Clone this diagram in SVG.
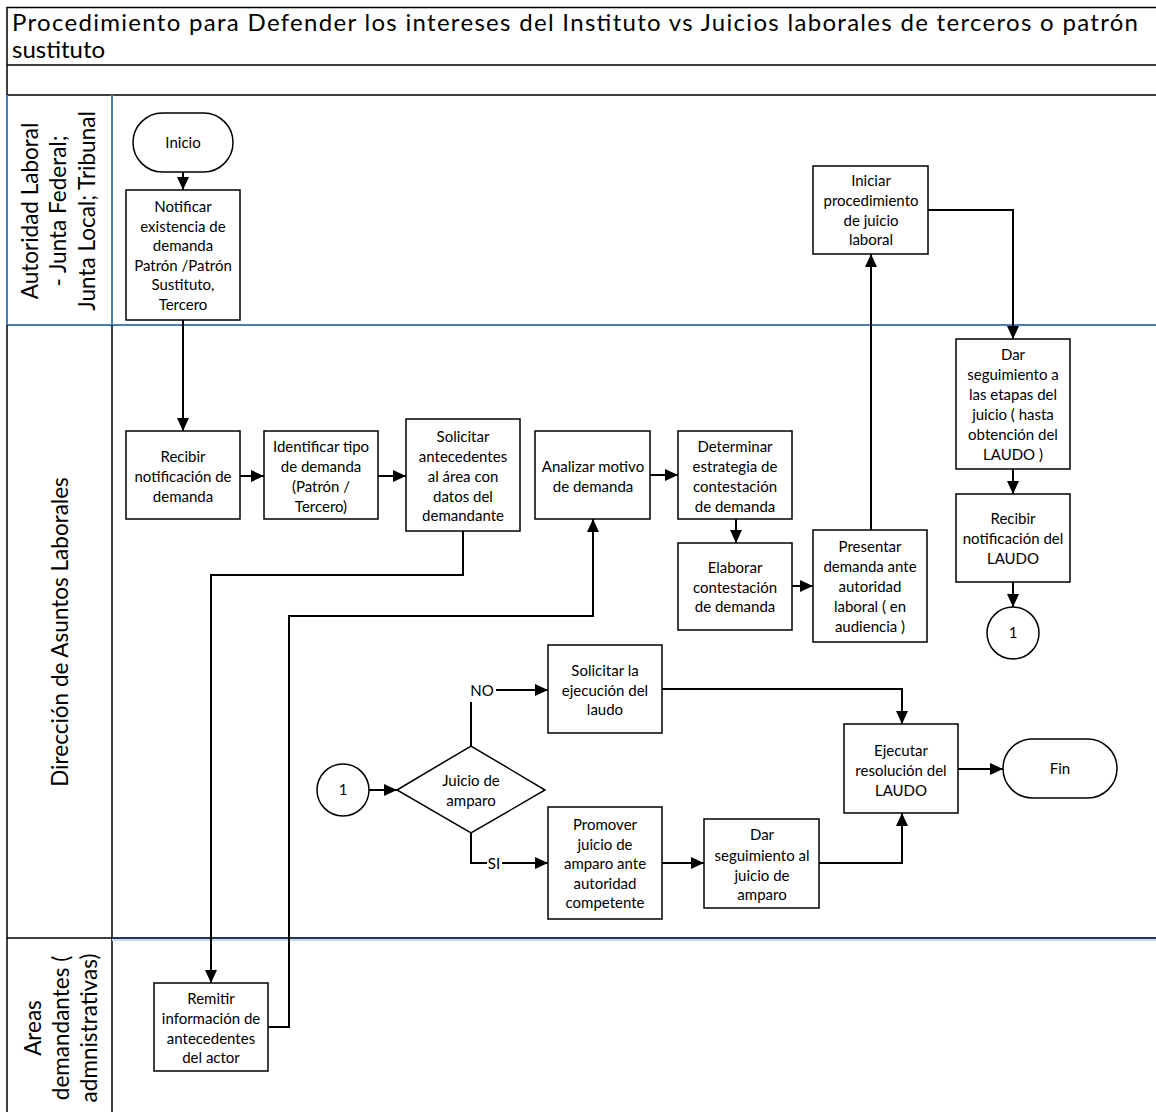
<svg xmlns="http://www.w3.org/2000/svg" width="1156" height="1112" viewBox="0 0 1156 1112">
<defs>
<marker id="arr" markerUnits="userSpaceOnUse" markerWidth="13" markerHeight="12" refX="13" refY="6" orient="auto"><path d="M0,0 L13,6 L0,12 z" fill="#000"/></marker>
<style>
.t{font-family:Lato,"Liberation Sans",sans-serif;font-size:15px;fill:#000;text-anchor:middle}
.lane{font-family:Lato,"Liberation Sans",sans-serif;font-size:22.5px;fill:#000;text-anchor:middle}
.title{font-family:Lato,"Liberation Sans",sans-serif;font-size:24px;fill:#000}
.box{fill:#fff;stroke:#000;stroke-width:1.5}
.c{fill:none;stroke:#000;stroke-width:2}
.ca{fill:none;stroke:#000;stroke-width:2;marker-end:url(#arr)}
.blue{stroke:#4a7ebb;stroke-width:2;fill:none}
.blk{stroke:#000;stroke-width:1.5;fill:none}
</style>
</defs>
<rect width="1156" height="1112" fill="#fff"/>
<g id="frame">
<rect x="7" y="7.5" width="1160" height="87.5" class="blk"/>
<line x1="7" y1="65" x2="1156" y2="65" class="blk"/>
<text class="title" x="12" y="31" textLength="1126" lengthAdjust="spacing">Procedimiento para Defender los intereses del Instituto vs Juicios laborales de terceros o patrón</text>
<text class="title" x="12" y="58">sustituto</text>
<line x1="7" y1="95" x2="7" y2="325" class="blue"/>
<line x1="112" y1="95" x2="112" y2="325" class="blue"/>
<line x1="7" y1="325" x2="1156" y2="325" class="blue"/>
<line x1="7" y1="325" x2="7" y2="1112" class="blk"/>
<line x1="112" y1="325" x2="112" y2="1112" class="blk"/>
<line x1="7" y1="938" x2="112" y2="938" class="blk"/>
<line x1="112" y1="938" x2="1156" y2="938" stroke="#1f3a5c" stroke-width="2"/>
<line x1="112" y1="940" x2="1156" y2="940" stroke="#c9d8ea" stroke-width="2"/>
</g>
<g id="lane-labels">
<text class="lane" transform="translate(38,211) rotate(-90)">Autoridad Laboral</text>
<text class="lane" transform="translate(66,211) rotate(-90)">- Junta Federal;</text>
<text class="lane" transform="translate(95,211) rotate(-90)">Junta Local; Tribunal</text>
<text class="lane" transform="translate(68,632) rotate(-90)">Dirección de Asuntos Laborales</text>
<text class="lane" transform="translate(41,1028) rotate(-90)">Areas</text>
<text class="lane" transform="translate(69,1028) rotate(-90)">demandantes (</text>
<text class="lane" transform="translate(97,1028) rotate(-90)">admnistrativas)</text>
</g>
<g id="connectors">
<path class="ca" d="M183,172 V190"/>
<path class="ca" d="M183,320 V431"/>
<path class="ca" d="M240,476 H264"/>
<path class="ca" d="M378,476 H406"/>
<path class="ca" d="M463,531 V575 H211 V983"/>
<path class="ca" d="M268,1027 H289 V616 H593 V519"/>
<path class="ca" d="M650,475 H678"/>
<path class="ca" d="M736,519 V543"/>
<path class="ca" d="M792,586 H813"/>
<path class="ca" d="M871,530 V254"/>
<path class="ca" d="M928,210 H1013 V339"/>
<path class="ca" d="M1013,469 V494"/>
<path class="ca" d="M1013,582 V607"/>
<path class="ca" d="M369,790 H397"/>
<path class="c" d="M471,746 V702"/>
<path class="ca" d="M496,690 H548"/>
<text class="t" x="482" y="696">NO</text>
<path class="c" d="M471,833 V863 H487"/>
<path class="ca" d="M502,863 H548"/>
<text class="t" x="494" y="869">SI</text>
<path class="ca" d="M662,863 H704"/>
<path class="ca" d="M662,689 H902 V724"/>
<path class="ca" d="M819,863 H902 V813"/>
<path class="ca" d="M958,769 H1003"/>
</g>
<g id="inicio"><rect class="box" x="133" y="113" width="100" height="59" rx="29.5"/><text class="t" x="183" y="148">Inicio</text></g>
<g id="notificar"><rect class="box" x="126" y="190" width="114" height="130"/><text class="t"><tspan x="183" y="212">Notificar</tspan><tspan x="183" y="232">existencia de</tspan><tspan x="183" y="251">demanda</tspan><tspan x="183" y="271">Patrón /Patrón</tspan><tspan x="183" y="290">Sustituto,</tspan><tspan x="183" y="310">Tercero</tspan></text></g>
<g id="iniciar"><rect class="box" x="813" y="166" width="115" height="88"/><text class="t"><tspan x="871" y="186">Iniciar</tspan><tspan x="871" y="206">procedimiento</tspan><tspan x="871" y="226">de juicio</tspan><tspan x="871" y="245">laboral</tspan></text></g>
<g id="recibir"><rect class="box" x="126" y="431" width="114" height="88"/><text class="t"><tspan x="183" y="462">Recibir</tspan><tspan x="183" y="482">notificación de</tspan><tspan x="183" y="502">demanda</tspan></text></g>
<g id="identificar"><rect class="box" x="264" y="431" width="114" height="88"/><text class="t"><tspan x="321" y="452">Identificar  tipo</tspan><tspan x="321" y="472">de demanda</tspan><tspan x="321" y="492">(Patrón /</tspan><tspan x="321" y="512">Tercero)</tspan></text></g>
<g id="solicitar"><rect class="box" x="406" y="419" width="114" height="112"/><text class="t"><tspan x="463" y="442">Solicitar</tspan><tspan x="463" y="462">antecedentes</tspan><tspan x="463" y="482">al área con</tspan><tspan x="463" y="502">datos del</tspan><tspan x="463" y="521">demandante</tspan></text></g>
<g id="analizar"><rect class="box" x="535" y="431" width="115" height="88"/><text class="t"><tspan x="593" y="472">Analizar motivo</tspan><tspan x="593" y="492">de demanda</tspan></text></g>
<g id="determinar"><rect class="box" x="678" y="431" width="114" height="88"/><text class="t"><tspan x="735" y="452">Determinar</tspan><tspan x="735" y="472">estrategia de</tspan><tspan x="735" y="492">contestación</tspan><tspan x="735" y="512">de demanda</tspan></text></g>
<g id="elaborar"><rect class="box" x="678" y="543" width="114" height="87"/><text class="t"><tspan x="735" y="573">Elaborar</tspan><tspan x="735" y="593">contestación</tspan><tspan x="735" y="612">de demanda</tspan></text></g>
<g id="presentar"><rect class="box" x="813" y="530" width="114" height="112"/><text class="t"><tspan x="870" y="552">Presentar</tspan><tspan x="870" y="572">demanda ante</tspan><tspan x="870" y="592">autoridad</tspan><tspan x="870" y="612">laboral ( en</tspan><tspan x="870" y="632">audiencia )</tspan></text></g>
<g id="seguimiento-etapas"><rect class="box" x="956" y="339" width="114" height="130"/><text class="t"><tspan x="1013" y="360">Dar</tspan><tspan x="1013" y="380">seguimiento a</tspan><tspan x="1013" y="400">las etapas del</tspan><tspan x="1013" y="420">juicio ( hasta</tspan><tspan x="1013" y="440">obtención del</tspan><tspan x="1013" y="460">LAUDO )</tspan></text></g>
<g id="recibir-laudo"><rect class="box" x="956" y="494" width="114" height="88"/><text class="t"><tspan x="1013" y="524">Recibir</tspan><tspan x="1013" y="544">notificación del</tspan><tspan x="1013" y="564">LAUDO</tspan></text></g>
<g id="conector-1-out"><circle class="box" cx="1013" cy="633" r="26"/><text class="t" x="1013" y="638">1</text></g>
<g id="conector-1-in"><circle class="box" cx="343" cy="790" r="26"/><text class="t" x="343" y="795">1</text></g>
<g id="juicio-amparo"><polygon class="box" points="397,790 471,746 545,790 471,833"/><text class="t"><tspan x="471" y="786">Juicio de</tspan><tspan x="471" y="806">amparo</tspan></text></g>
<g id="solicitar-ejecucion"><rect class="box" x="548" y="645" width="114" height="88"/><text class="t"><tspan x="605" y="676">Solicitar la</tspan><tspan x="605" y="696">ejecución del</tspan><tspan x="605" y="715">laudo</tspan></text></g>
<g id="promover"><rect class="box" x="548" y="807" width="114" height="112"/><text class="t"><tspan x="605" y="830">Promover</tspan><tspan x="605" y="850">juicio de</tspan><tspan x="605" y="869">amparo ante</tspan><tspan x="605" y="889">autoridad</tspan><tspan x="605" y="908">competente</tspan></text></g>
<g id="seguimiento-amparo"><rect class="box" x="704" y="819" width="115" height="89"/><text class="t"><tspan x="762" y="840">Dar</tspan><tspan x="762" y="861">seguimiento al</tspan><tspan x="762" y="881">juicio de</tspan><tspan x="762" y="900">amparo</tspan></text></g>
<g id="ejecutar"><rect class="box" x="844" y="724" width="114" height="89"/><text class="t"><tspan x="901" y="756">Ejecutar</tspan><tspan x="901" y="776">resolución del</tspan><tspan x="901" y="796">LAUDO</tspan></text></g>
<g id="fin"><rect class="box" x="1003" y="739" width="114" height="59" rx="29.5"/><text class="t" x="1060" y="774">Fin</text></g>
<g id="remitir"><rect class="box" x="154" y="983" width="114" height="88"/><text class="t"><tspan x="211" y="1004">Remitir</tspan><tspan x="211" y="1024">información de</tspan><tspan x="211" y="1044">antecedentes</tspan><tspan x="211" y="1063">del actor</tspan></text></g>
</svg>
